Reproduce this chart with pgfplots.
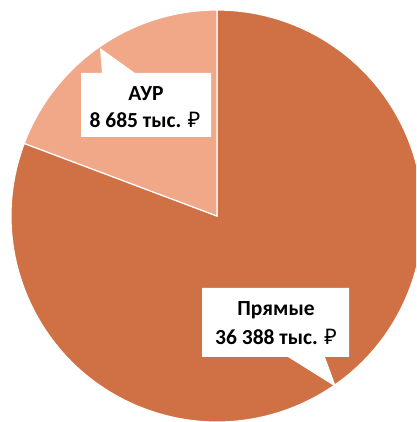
\documentclass[border=0pt]{standalone}
\usepackage{pgfplots}
\pgfplotsset{compat=1.18}
\usepackage{fontspec}
\setmainfont{Carlito}
\newfontfamily\rubfont{Noto Sans}
\newcommand{\rub}{{\rubfont ₽}}
\definecolor{direct}{RGB}{208,113,69}
\definecolor{aur}{RGB}{240,168,136}

\begin{document}
\begin{tikzpicture}
% values, thousand roubles
\def\vAUR{8685}
\def\vDirect{36388}
\edef\aEnd{\fpeval{round(90+360*\vAUR/(\vAUR+\vDirect),3)}}
\begin{axis}[
    scale only axis,
    width=416pt, height=422pt,
    xmin=0, xmax=416, ymin=0, ymax=422,
    hide axis,
]
    % slices
    \filldraw[fill=direct, draw=white, line width=1.2pt]
        (axis cs:217,206) -- ++(\aEnd:206pt)
        arc[start angle=\aEnd, end angle=450, radius=206pt] -- cycle;
    \filldraw[fill=aur, draw=white, line width=1.2pt]
        (axis cs:217,206) -- ++(90:206pt)
        arc[start angle=90, end angle=\aEnd, radius=206pt] -- cycle;

    % callouts
    \fill[white] (axis cs:81,285) -- (axis cs:211,285) -- (axis cs:211,349)
        -- (axis cs:135,349) -- (axis cs:100,374) -- (axis cs:102,349)
        -- (axis cs:81,349) -- cycle;
    \fill[white] (axis cs:202,65) -- (axis cs:288,65) -- (axis cs:336,35)
        -- (axis cs:325,65) -- (axis cs:349,65) -- (axis cs:349,134)
        -- (axis cs:202,134) -- cycle;

    \tikzset{lbl/.style={font=\bfseries\fontsize{21.5}{24}\selectfont, inner sep=0pt}}
    \node[lbl] at (axis cs:146,328) {АУР};
    \node[lbl] at (axis cs:145,302) {8 685 тыс. \rub};
    \node[lbl] at (axis cs:276,112) {Прямые};
    \node[lbl] at (axis cs:276,85) {36 388 тыс. \rub};
\end{axis}
\pgfresetboundingbox
\path (0,0) rectangle (416pt,422pt);
\end{tikzpicture}
\end{document}
